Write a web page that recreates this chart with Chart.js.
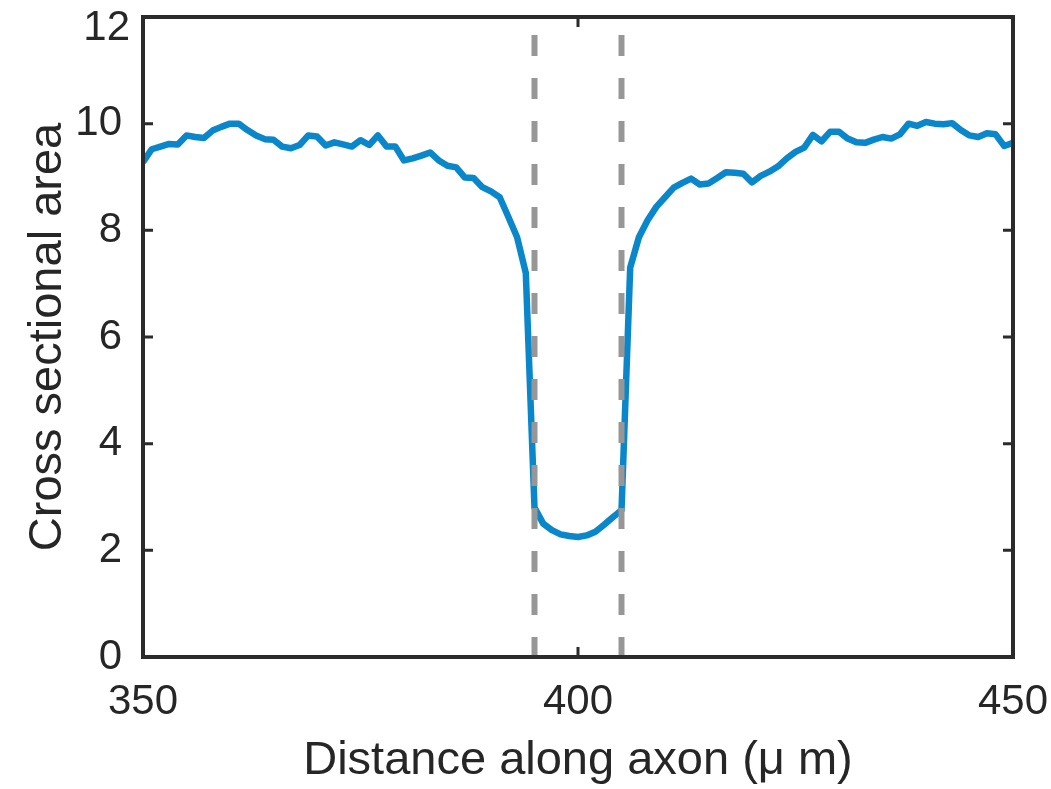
<!DOCTYPE html>
<html>
<head>
<meta charset="utf-8">
<script src="https://cdn.jsdelivr.net/npm/chart.js@4/dist/chart.umd.min.js"></script>
<style>
    body { margin: 0; background: #fff; }
    #wrap { width: 1051px; height: 789px; }
</style>
</head>
<body>
<div id="wrap"><canvas id="axonChart" width="1051" height="789"></canvas></div>
<script>
const distance = [
    350, 351, 352, 353, 354, 355, 356, 357, 358, 359,
    360, 361, 362, 363, 364, 365, 366, 367, 368, 369,
    370, 371, 372, 373, 374, 375, 376, 377, 378, 379,
    380, 381, 382, 383, 384, 385, 386, 387, 388, 389,
    390, 391, 392, 393, 394, 395, 396, 397, 398, 399,
    400, 401, 402, 403, 404, 405, 406, 407, 408, 409,
    410, 411, 412, 413, 414, 415, 416, 417, 418, 419,
    420, 421, 422, 423, 424, 425, 426, 427, 428, 429,
    430, 431, 432, 433, 434, 435, 436, 437, 438, 439,
    440, 441, 442, 443, 444, 445, 446, 447, 448, 449,
    450
];
const area = [
    9.28, 9.52, 9.57, 9.62, 9.61, 9.78, 9.75, 9.73, 9.87, 9.94,
    10.0, 10.0, 9.88, 9.78, 9.71, 9.70, 9.57, 9.54, 9.60, 9.78,
    9.76, 9.59, 9.65, 9.61, 9.57, 9.69, 9.60, 9.78, 9.57, 9.57,
    9.31, 9.35, 9.40, 9.46, 9.31, 9.21, 9.18, 8.99, 8.98, 8.81,
    8.73, 8.62, 8.25, 7.87, 7.20, 2.80, 2.50, 2.38, 2.30, 2.27,
    2.25, 2.28, 2.35, 2.48, 2.62, 2.75, 7.30, 7.87, 8.19, 8.44,
    8.62, 8.80, 8.89, 8.97, 8.86, 8.88, 8.98, 9.09, 9.08, 9.06,
    8.90, 9.02, 9.10, 9.20, 9.35, 9.47, 9.55, 9.79, 9.67, 9.85,
    9.85, 9.72, 9.65, 9.64, 9.70, 9.75, 9.72, 9.80, 10.0, 9.96,
    10.03, 10.0, 9.99, 10.01, 9.88, 9.78, 9.75, 9.82, 9.80, 9.58,
    9.64
];
// constriction boundaries (dashed lines)
const boundaryX = [395, 405];
const xTicks = [350, 400, 450];
const yTicks = [0, 2, 4, 6, 8, 10, 12];

const FONT = "'Liberation Sans', Arial, Helvetica, sans-serif";
const AXIS_COLOR = '#2b2b2b';
const TEXT_COLOR = '#262626';
const TICK_FONT_SIZE = 42;
const Y_TICK_PAD = 13;

// box around the plot with inward ticks on every side
const framePlugin = {
    id: 'frame',
    afterDatasetsDraw(chart) {
        const ctx = chart.ctx;
        const a = chart.chartArea;
        const xs = chart.scales.x;
        const ys = chart.scales.y;
        const tick = 10;
        ctx.save();
        ctx.strokeStyle = AXIS_COLOR;
        ctx.lineWidth = 4;
        ctx.lineCap = 'square';
        ctx.beginPath();
        ctx.rect(a.left, a.top, a.right - a.left, a.bottom - a.top);
        ctx.stroke();
        ctx.lineWidth = 3;
        ctx.lineCap = 'butt';
        ctx.beginPath();
        yTicks.forEach(v => {
            const py = ys.getPixelForValue(v);
            ctx.moveTo(a.left, py);
            ctx.lineTo(a.left + tick, py);
            ctx.moveTo(a.right, py);
            ctx.lineTo(a.right - tick, py);
        });
        xTicks.forEach(v => {
            const px = xs.getPixelForValue(v);
            ctx.moveTo(px, a.bottom);
            ctx.lineTo(px, a.bottom - tick);
            ctx.moveTo(px, a.top);
            ctx.lineTo(px, a.top + tick);
        });
        ctx.stroke();

        // top y label sits a bit lower than its tick so it stays inside the figure
        const top = yTicks[yTicks.length - 1];
        ctx.fillStyle = TEXT_COLOR;
        ctx.font = TICK_FONT_SIZE + 'px ' + FONT;
        ctx.textAlign = 'right';
        ctx.textBaseline = 'middle';
        ctx.fillText(String(top), a.left - Y_TICK_PAD, ys.getPixelForValue(top) + 11);
        ctx.restore();
    }
};

function renderAxonChart() {
    const points = distance.map((d, i) => ({ x: d, y: area[i] }));

    const dashed = boundaryX.map(bx => ({
        data: [{ x: bx, y: 12 }, { x: bx, y: 0 }],
        borderColor: '#979797',
        borderWidth: 6,
        borderDash: [21, 22],
        borderDashOffset: 25,
        pointRadius: 0,
        order: 0
    }));

    const ctx = document.getElementById('axonChart').getContext('2d');
    new Chart(ctx, {
        type: 'line',
        data: {
            datasets: [{
                data: points,
                borderColor: '#0a87ca',
                borderWidth: 6.5,
                pointRadius: 0,
                tension: 0,
                borderJoinStyle: 'round',
                order: 1
            }, ...dashed]
        },
        options: {
            responsive: false,
            animation: false,
            devicePixelRatio: 1,
            layout: { padding: { top: 17, right: 38, left: 0, bottom: 0 } },
            plugins: {
                legend: { display: false },
                tooltip: { enabled: false }
            },
            scales: {
                x: {
                    type: 'linear',
                    min: 350,
                    max: 450,
                    afterBuildTicks: scale => {
                        scale.ticks = xTicks.map(v => ({ value: v }));
                    },
                    afterFit: scale => {
                        scale.height = 132;
                        scale.paddingLeft = 0;
                        scale.paddingRight = 0;
                    },
                    grid: { display: false },
                    border: { display: false },
                    ticks: {
                        color: TEXT_COLOR,
                        padding: 12,
                        font: { family: FONT, size: TICK_FONT_SIZE }
                    },
                    title: {
                        display: true,
                        text: 'Distance along axon (\u03bc m)',
                        color: TEXT_COLOR,
                        padding: { top: 0, bottom: 0 },
                        font: { family: FONT, size: 47 }
                    }
                },
                y: {
                    min: 0,
                    max: 12,
                    afterBuildTicks: scale => {
                        scale.ticks = yTicks.map(v => ({ value: v }));
                    },
                    afterFit: scale => {
                        scale.width = 143;
                        scale.paddingTop = 0;
                        scale.paddingBottom = 0;
                    },
                    grid: { display: false },
                    border: { display: false },
                    ticks: {
                        color: TEXT_COLOR,
                        padding: Y_TICK_PAD,
                        font: { family: FONT, size: TICK_FONT_SIZE },
                        // 12 is drawn by the frame plugin
                        callback: v => (v === yTicks[yTicks.length - 1] ? '' : String(v))
                    },
                    title: {
                        display: true,
                        text: 'Cross sectional area',
                        color: TEXT_COLOR,
                        padding: { top: 20, bottom: 0 },
                        font: { family: FONT, size: 47 }
                    }
                }
            }
        },
        plugins: [framePlugin]
    });
}

renderAxonChart();
</script>
</body>
</html>
